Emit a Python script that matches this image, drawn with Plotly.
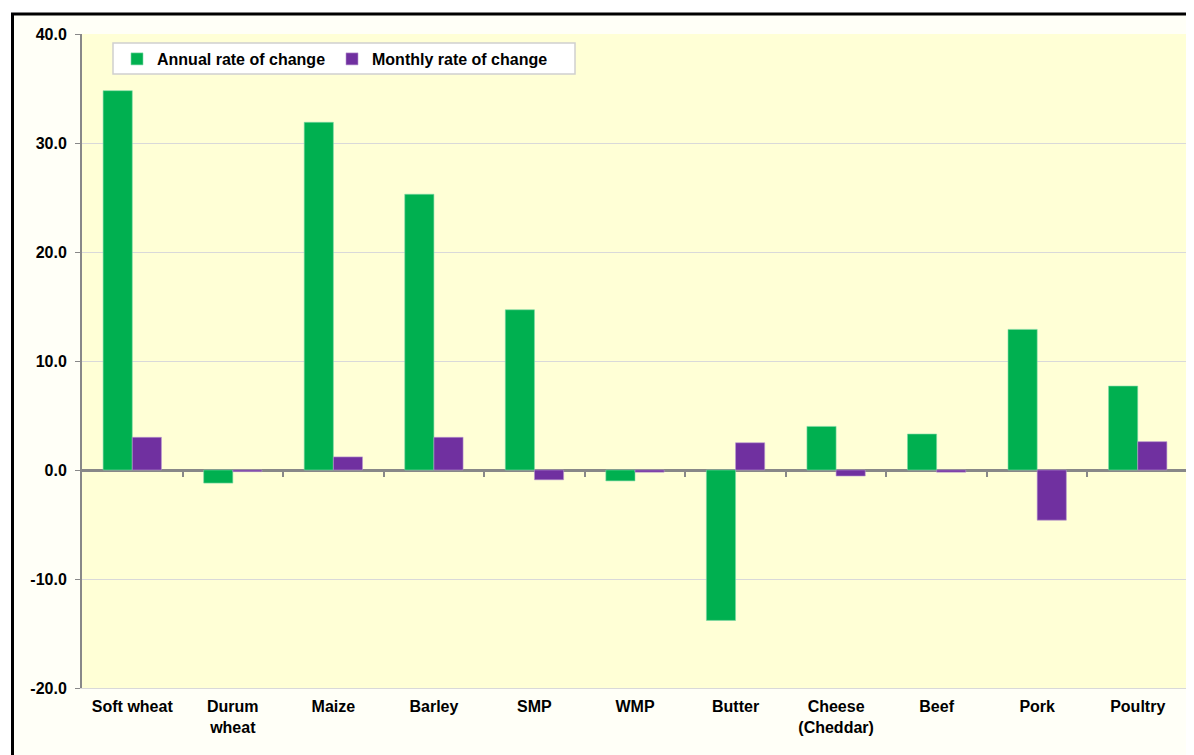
import plotly.graph_objects as go

categories = ["Soft wheat", "Durum<br>wheat", "Maize", "Barley", "SMP", "WMP",
              "Butter", "Cheese<br>(Cheddar)", "Beef", "Pork", "Poultry"]
annual = [34.8, -1.2, 31.9, 25.3, 14.7, -1.0, -13.8, 4.0, 3.3, 12.9, 7.7]
monthly = [3.0, -0.15, 1.2, 3.0, -0.9, -0.2, 2.5, -0.55, -0.2, -4.6, 2.6]
ytick_vals = [-20, -10, 0, 10, 20, 30, 40]
ytick_text = ["-20.0", "-10.0", "0.0", "10.0", "20.0", "30.0", "40.0"]

FONT = "Liberation Sans, Arial, sans-serif"
OFF = 8  # page body margin
W, H = 1194 - OFF, 755 - OFF
L, T = 82 - OFF, 34 - OFF
R = W - (1188 - OFF)
B = H - (688 - OFF)
pw, ph = W - L - R, H - T - B

def px2x(p):  # page px -> paper
    return (p - OFF - L) / pw

def px2y(p):
    return (H - B - (p - OFF)) / ph

fig = go.Figure()
fig.add_trace(go.Bar(x=categories, y=annual, name="Annual rate of change",
                     marker=dict(color="#00B050", line=dict(color="#7FD8A7", width=0.6))))
fig.add_trace(go.Bar(x=categories, y=monthly, name="Monthly rate of change",
                     marker=dict(color="#7030A0", line=dict(color="#B898D0", width=0.6))))
# helper trace for the zero-line tick axis
fig.add_trace(go.Scatter(x=[0], y=[0], xaxis="x2", yaxis="y", mode="markers",
                         marker=dict(opacity=0), showlegend=False, hoverinfo="skip"))

fig.update_layout(
    width=W, height=H,
    margin=dict(l=L, r=R, t=T, b=B),
    paper_bgcolor="#FFFFF7",
    plot_bgcolor="#FFFFD6",
    barmode="group", bargap=0.42, bargroupgap=0,
    font=dict(family=FONT, size=16, color="black"),
    xaxis=dict(type="category", showgrid=False, ticks="", showline=True,
               linecolor="#D9D9D9", linewidth=1, ticklabelstandoff=4,
               tickfont=dict(family=FONT, size=16, color="black", weight="bold"),
               range=[-0.5, 10.5]),
    xaxis2=dict(overlaying="x", anchor="free", position=1/3, range=[-0.5, 10.5],
                tickvals=[i + 0.5 for i in range(10)], showticklabels=False,
                ticks="outside", ticklen=6, tickwidth=2, tickcolor="#888888",
                showgrid=False, showline=False, zeroline=False),
    yaxis=dict(range=[-20, 40], tickvals=ytick_vals, ticktext=ytick_text,
               showgrid=True, gridcolor="#D9D9D9", gridwidth=1,
               zeroline=True, zerolinecolor="#888888", zerolinewidth=3,
               showline=True, linecolor="#888888", linewidth=2,
               ticks="outside", ticklen=5, tickcolor="#888888", tickwidth=1,
               ticklabelstandoff=5,
               tickfont=dict(family=FONT, size=16, color="black", weight="bold")),
    legend=dict(orientation="h", x=px2x(117), y=px2y(42), xanchor="left", yanchor="top",
                bgcolor="rgba(0,0,0,0)", borderwidth=0,
                font=dict(family=FONT, size=16, color="black", weight="bold"),
                itemwidth=30, entrywidth=170, traceorder="normal"),
    showlegend=True,
)

# legend box
fig.add_shape(type="rect", xref="paper", yref="paper", x0=px2x(113), x1=px2x(575),
              y0=px2y(74), y1=px2y(43), fillcolor="white",
              line=dict(color="#D0D0D0", width=1.5), layer="above")

# white strips outside the outer border and the black border itself
fig.add_shape(type="rect", xref="paper", yref="paper", x0=px2x(-20), x1=px2x(11),
              y0=px2y(H + 40), y1=px2y(-20), fillcolor="white", line_width=0, layer="above")
fig.add_shape(type="rect", xref="paper", yref="paper", x0=px2x(-20), x1=px2x(1240),
              y0=px2y(13), y1=px2y(-20), fillcolor="white", line_width=0, layer="above")
fig.add_shape(type="line", xref="paper", yref="paper", x0=px2x(11), x1=px2x(1240),
              y0=px2y(14), y1=px2y(14), line=dict(color="black", width=3), layer="above")
fig.add_shape(type="line", xref="paper", yref="paper", x0=px2x(12.5), x1=px2x(12.5),
              y0=px2y(13), y1=px2y(800), line=dict(color="black", width=3), layer="above")

fig.write_html("out.html")
